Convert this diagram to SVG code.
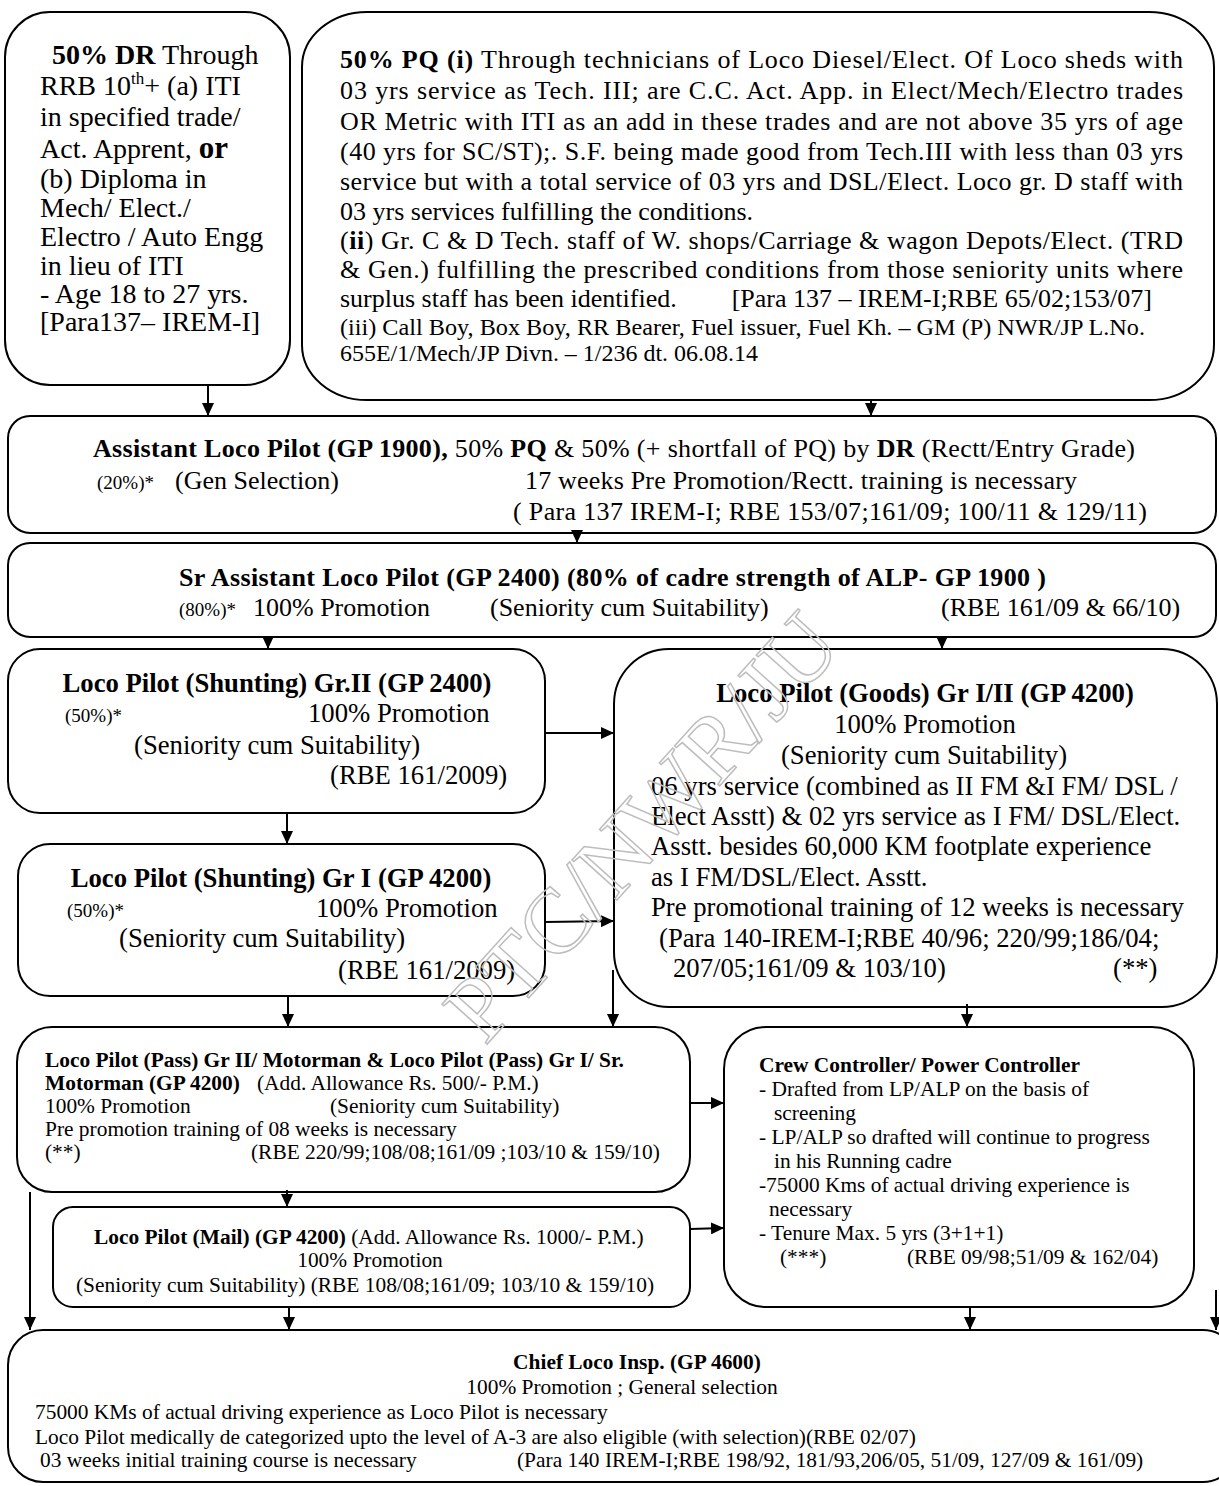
<svg xmlns="http://www.w3.org/2000/svg" width="1219" height="1486" viewBox="0 0 1219 1486">
<defs>
<marker id="ah" markerUnits="userSpaceOnUse" markerWidth="14" markerHeight="12" refX="13" refY="6" orient="auto">
<path d="M0,0 L13,6 L0,12 Z" fill="#000"/>
</marker>
<style>
.box{fill:#fff;stroke:#000;stroke-width:2}
.t{font-family:"Liberation Serif","Times New Roman",serif;fill:#000}
.b{font-weight:bold}
.f28{font-size:28px}
.f26{font-size:26px}
.f27{font-size:26.7px}
.f23{font-size:23px}
.f21{font-size:21.4px}
.f19{font-size:19px}
.c{text-anchor:middle}
.e{text-anchor:end}
.con line{stroke:#000;stroke-width:2;marker-end:url(#ah)}
.wm{font-family:"Liberation Serif","Times New Roman",serif;font-size:92px;fill:none;stroke:#bdbdbd;stroke-width:1.5}
</style>
</defs>
<rect width="1219" height="1486" fill="#fff"/>

<g id="dr">
<rect class="box" x="5" y="12" width="285" height="373" rx="45" ry="45"/>
<text class="t f28" x="52" y="64"><tspan class="b">50%  DR</tspan> Through</text>
<text class="t f28" x="40" y="95">RRB 10<tspan font-size="17" dy="-11">th</tspan><tspan dy="11">+ (a) ITI</tspan></text>
<text class="t f28" x="40" y="126">in specified  trade/</text>
<text class="t f28" x="40" y="158">Act.  Apprent, <tspan class="b" font-size="31">or</tspan></text>
<text class="t f28" x="40" y="188">(b) Diploma  in</text>
<text class="t f28" x="40" y="217">Mech/ Elect./</text>
<text class="t f28" x="40" y="246">Electro / Auto Engg</text>
<text class="t f28" x="40" y="275">in lieu of ITI</text>
<text class="t f28" x="40" y="303">- Age 18 to 27 yrs.</text>
<text class="t f28" x="40" y="331">[Para137– IREM-I]</text>
</g>

<g id="pq">
<rect class="box" x="302" y="12" width="912" height="388" rx="65" ry="55"/>
<text class="t f26" x="340" y="68" textLength="843" lengthAdjust="spacing"><tspan class="b">50% PQ (i)</tspan> Through technicians of Loco Diesel/Elect. Of  Loco sheds with</text>
<text class="t f26" x="340" y="99" textLength="843" lengthAdjust="spacing">03 yrs service as Tech. III; are C.C. Act. App. in Elect/Mech/Electro trades</text>
<text class="t f26" x="340" y="130" textLength="843" lengthAdjust="spacing">OR Metric with ITI as an add in these trades and are not above 35 yrs of age</text>
<text class="t f26" x="340" y="160" textLength="843" lengthAdjust="spacing">(40 yrs for SC/ST);. S.F. being made good from Tech.III with less than 03 yrs</text>
<text class="t f26" x="340" y="190" textLength="843" lengthAdjust="spacing">service but with a total service of 03 yrs and DSL/Elect. Loco gr. D staff with</text>
<text class="t f26" x="340" y="220">03 yrs services fulfilling the conditions.</text>
<text class="t f26" x="340" y="249" textLength="843" lengthAdjust="spacing">(<tspan class="b">ii</tspan>) Gr. C &amp; D Tech. staff of W. shops/Carriage &amp; wagon Depots/Elect. (TRD</text>
<text class="t f26" x="340" y="278" textLength="843" lengthAdjust="spacing">&amp; Gen.) fulfilling the prescribed conditions from those seniority units where</text>
<text class="t f26" x="340" y="307">surplus staff has been identified.</text>
<text class="t f26 e" x="1152" y="307">[Para 137 – IREM-I;RBE 65/02;153/07]</text>
<text class="t f23" x="340" y="335" textLength="805" lengthAdjust="spacingAndGlyphs">(iii) Call Boy, Box Boy, RR Bearer, Fuel issuer, Fuel Kh. – GM (P) NWR/JP L.No.</text>
<text class="t f23" x="340" y="361" textLength="418" lengthAdjust="spacingAndGlyphs">655E/1/Mech/JP Divn. – 1/236 dt. 06.08.14</text>
</g>

<g id="alp">
<rect class="box" x="8" y="416" width="1208" height="117" rx="22" ry="22"/>
<text class="t f26" x="93" y="457" textLength="1042" lengthAdjust="spacing"><tspan class="b">Assistant Loco Pilot (GP 1900),</tspan> 50% <tspan class="b">PQ</tspan> &amp; 50% (+ shortfall of PQ) by <tspan class="b">DR</tspan> (Rectt/Entry Grade)</text>
<text class="t f19" x="97" y="489">(20%)*</text>
<text class="t f26" x="175" y="489">(Gen Selection)</text>
<text class="t f26" x="525" y="489" textLength="552" lengthAdjust="spacing">17 weeks Pre Promotion/Rectt. training is necessary</text>
<text class="t f26" x="513" y="520" textLength="634" lengthAdjust="spacing">( Para 137 IREM-I; RBE 153/07;161/09; 100/11 &amp; 129/11)</text>
</g>

<g id="sralp">
<rect class="box" x="8" y="543" width="1208" height="94" rx="22" ry="22"/>
<text class="t f26 b" x="179" y="586" textLength="867" lengthAdjust="spacing">Sr Assistant Loco Pilot (GP 2400) (80% of cadre strength of ALP- GP 1900 )</text>
<text class="t f19" x="179" y="616">(80%)*</text>
<text class="t f26" x="253" y="616">100% Promotion</text>
<text class="t f26" x="490" y="616">(Seniority cum Suitability)</text>
<text class="t f26" x="941" y="616">(RBE 161/09 &amp; 66/10)</text>
</g>

<g id="lpsh2">
<rect class="box" x="8" y="649" width="537" height="164" rx="32" ry="32"/>
<text class="t f27 b c" x="277" y="692">Loco Pilot (Shunting) Gr.II (GP 2400)</text>
<text class="t f19" x="65" y="722">(50%)*</text>
<text class="t f27" x="308" y="722">100% Promotion</text>
<text class="t f27" x="134" y="754">(Seniority cum Suitability)</text>
<text class="t f27" x="330" y="784">(RBE 161/2009)</text>
</g>

<g id="lpsh1">
<rect class="box" x="18" y="844" width="527" height="152" rx="32" ry="32"/>
<text class="t f27 b c" x="281" y="887">Loco Pilot (Shunting) Gr I (GP 4200)</text>
<text class="t f19" x="67" y="917">(50%)*</text>
<text class="t f27" x="316" y="917">100% Promotion</text>
<text class="t f27" x="119" y="947">(Seniority cum Suitability)</text>
<text class="t f27" x="338" y="979">(RBE 161/2009)</text>
</g>

<g id="goods">
<rect class="box" x="614" y="649" width="603" height="358" rx="55" ry="55"/>
<text class="t f27 b c" x="925" y="702">Loco Pilot (Goods) Gr I/II (GP 4200)</text>
<text class="t f27 c" x="925" y="733">100% Promotion</text>
<text class="t f27 c" x="924" y="764">(Seniority cum Suitability)</text>
<text class="t f27" x="651" y="795">06 yrs service (combined as II FM &amp;I  FM/ DSL /</text>
<text class="t f27" x="651" y="825">Elect Asstt) &amp; 02 yrs service as I FM/ DSL/Elect.</text>
<text class="t f27" x="651" y="855">Asstt. besides 60,000 KM  footplate  experience</text>
<text class="t f27" x="651" y="886">as I FM/DSL/Elect. Asstt.</text>
<text class="t f27" x="651" y="916">Pre promotional training  of 12 weeks is necessary</text>
<text class="t f27" x="659" y="947">(Para 140-IREM-I;RBE 40/96;  220/99;186/04;</text>
<text class="t f27" x="673" y="977">207/05;161/09 &amp; 103/10)</text>
<text class="t f27" x="1113" y="977">(**)</text>
</g>

<g id="pass">
<rect class="box" x="17" y="1027" width="673" height="165" rx="35" ry="35"/>
<text class="t f21 b" x="45" y="1067">Loco Pilot (Pass) Gr II/ Motorman &amp; Loco Pilot (Pass) Gr I/ Sr.</text>
<text class="t f21 b" x="45" y="1090">Motorman (GP 4200)</text>
<text class="t f21" x="257" y="1090">(Add. Allowance  Rs. 500/- P.M.)</text>
<text class="t f21" x="45" y="1113">100% Promotion</text>
<text class="t f21" x="330" y="1113">(Seniority cum Suitability)</text>
<text class="t f21" x="45" y="1136">Pre promotion training of 08 weeks is necessary</text>
<text class="t f21" x="45" y="1159">(**)</text>
<text class="t f21" x="251" y="1159">(RBE 220/99;108/08;161/09 ;103/10 &amp; 159/10)</text>
</g>

<g id="mail">
<rect class="box" x="53" y="1207" width="637" height="100" rx="20" ry="20"/>
<text class="t f21" x="94" y="1244"><tspan class="b">Loco Pilot (Mail) (GP 4200)</tspan> (Add. Allowance Rs. 1000/- P.M.)</text>
<text class="t f21 c" x="370" y="1267">100% Promotion</text>
<text class="t f21" x="76" y="1292">(Seniority cum Suitability)   (RBE 108/08;161/09; 103/10 &amp; 159/10)</text>
</g>

<g id="crew">
<rect class="box" x="724" y="1027" width="470" height="280" rx="42" ry="42"/>
<text class="t f21 b" x="759" y="1072">Crew Controller/ Power Controller</text>
<text class="t f21" x="759" y="1096">- Drafted from LP/ALP on the  basis of</text>
<text class="t f21" x="774" y="1120">screening</text>
<text class="t f21" x="759" y="1144">- LP/ALP so  drafted will continue to progress</text>
<text class="t f21" x="774" y="1168">in his Running cadre</text>
<text class="t f21" x="759" y="1192">-75000 Kms of actual driving experience is</text>
<text class="t f21" x="769" y="1216">necessary</text>
<text class="t f21" x="759" y="1240">- Tenure Max. 5 yrs (3+1+1)</text>
<text class="t f21" x="780" y="1264">(***)</text>
<text class="t f21" x="907" y="1264">(RBE 09/98;51/09 &amp; 162/04)</text>
</g>

<g id="chief">
<rect class="box" x="8" y="1330" width="1230" height="152" rx="35" ry="35"/>
<text class="t f21 b c" x="637" y="1369">Chief Loco Insp. (GP 4600)</text>
<text class="t f21 c" x="622" y="1394">100% Promotion ; General selection</text>
<text class="t f21" x="35" y="1419">75000 KMs of actual driving experience as Loco Pilot is necessary</text>
<text class="t f21" x="35" y="1444">Loco Pilot medically de categorized  upto the level of A-3 are also eligible (with selection)(RBE 02/07)</text>
<text class="t f21" x="40" y="1467">03 weeks initial training course is necessary</text>
<text class="t f21" x="517" y="1467">(Para 140 IREM-I;RBE 198/92, 181/93,206/05, 51/09, 127/09 &amp; 161/09)</text>
</g>

<g id="connectors" class="con">
<line x1="208" y1="385" x2="208" y2="416"/>
<line x1="871" y1="400" x2="871" y2="416"/>
<line x1="577" y1="530" x2="577" y2="543"/>
<line x1="268" y1="637" x2="268" y2="649"/>
<line x1="942" y1="637" x2="942" y2="649"/>
<line x1="287" y1="813" x2="287" y2="844"/>
<line x1="545" y1="733" x2="614" y2="733"/>
<line x1="545" y1="922" x2="614" y2="921"/>
<line x1="288" y1="996" x2="288" y2="1027"/>
<line x1="613" y1="970" x2="613" y2="1027"/>
<line x1="967" y1="1004" x2="967" y2="1027"/>
<line x1="690" y1="1103" x2="724" y2="1103"/>
<line x1="287" y1="1190" x2="287" y2="1207"/>
<line x1="690" y1="1229" x2="724" y2="1228"/>
<line x1="30" y1="1192" x2="30" y2="1330"/>
<line x1="289" y1="1307" x2="289" y2="1330"/>
<line x1="970" y1="1307" x2="970" y2="1330"/>
<line x1="1216" y1="1290" x2="1216" y2="1330"/>
</g>

<text class="wm" x="640" y="858" text-anchor="middle" transform="rotate(-48 640 825)">PTC/NWR/JU</text>
</svg>
